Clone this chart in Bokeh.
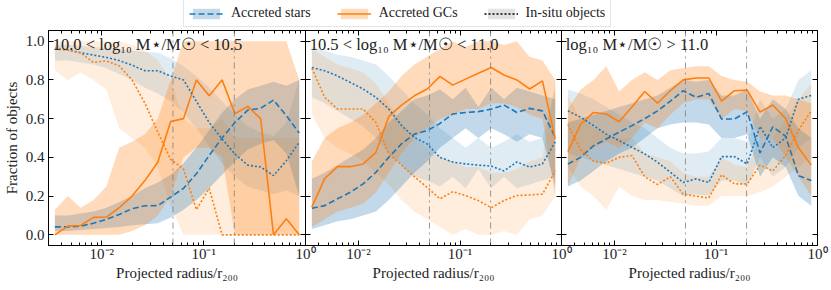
from bokeh.plotting import figure
from bokeh.models import (Range1d, LogAxis, LinearAxis, FixedTicker, CustomJSTickFormatter,
                          PrintfTickFormatter, Span, Label, Legend, LegendItem)
from bokeh.layouts import column, row
from bokeh.embed import file_html
from bokeh.resources import INLINE

# ---------------- data ----------------
RADIUS = [0.003467, 0.004637, 0.006201, 0.008292, 0.01109, 0.01483, 0.01983, 0.02652,
          0.03547, 0.04743, 0.06343, 0.08483, 0.1134, 0.1517, 0.2029, 0.2713, 0.3628,
          0.4852, 0.6489, 0.8677]
XTICKS = [0.01, 0.1, 1.0]
XTICK_LABELS = ["10\u207b\u00b2", "10\u207b\u00b9", "10\u2070"]
YTICKS = [0.0, 0.2, 0.4, 0.6, 0.8, 1.0]
REF_RADII = [0.05, 0.2]
PANEL_TITLES = ["10.0  < log\u2081\u2080 M\u22c6/M\u2609 <  10.5",
                "10.5  < log\u2081\u2080 M\u22c6/M\u2609 <  11.0",
                "log\u2081\u2080 M\u22c6/M\u2609 >  11.0"]
SERIES_NAMES = ["Accreted stars", "Accreted GCs", "In-situ objects"]
XLABEL = "Projected radius/r\u2082\u2080\u2080"
YLABEL = "Fraction of objects"

# panel 1
P1_ACC_STARS = [0.041, 0.041, 0.045, 0.060, 0.080, 0.105, 0.135, 0.150, 0.151, 0.195, 0.240, 0.315, 0.410, 0.500, 0.580, 0.644, 0.653, 0.696, 0.615, 0.526]
P1_ACC_STARS_LO = [0.02, 0.02, 0.025, 0.03, 0.035, 0.04, 0.05, 0.055, 0.06, 0.09, 0.13, 0.18, 0.24, 0.31, 0.38, 0.44, 0.47, 0.49, 0.42, 0.20]
P1_ACC_STARS_HI = [0.10, 0.10, 0.11, 0.12, 0.14, 0.17, 0.20, 0.24, 0.27, 0.31, 0.37, 0.45, 0.54, 0.63, 0.70, 0.75, 0.77, 0.79, 0.77, 0.80]
P1_INS_STARS = [0.96, 0.955, 0.94, 0.928, 0.916, 0.90, 0.876, 0.847, 0.847, 0.82, 0.80, 0.69, 0.58, 0.495, 0.417, 0.36, 0.35, 0.306, 0.383, 0.478]
P1_INS_STARS_LO = [0.90, 0.90, 0.89, 0.88, 0.86, 0.83, 0.80, 0.76, 0.73, 0.69, 0.63, 0.55, 0.46, 0.37, 0.30, 0.25, 0.23, 0.21, 0.23, 0.20]
P1_INS_STARS_HI = [0.98, 0.98, 0.975, 0.97, 0.965, 0.96, 0.95, 0.945, 0.94, 0.91, 0.87, 0.82, 0.76, 0.69, 0.62, 0.56, 0.53, 0.51, 0.58, 0.80]
P1_ACC_GCS = [0.0, 0.045, 0.048, 0.09, 0.092, 0.14, 0.20, 0.28, 0.375, 0.585, 0.60, 0.80, 0.718, 0.80, 0.625, 0.663, 0.60, 0.0, 0.083, 0.0]
P1_ACC_GCS_LO = [0.0, 0.0, 0.0, 0.0, 0.0, 0.0, 0.02, 0.05, 0.10, 0.20, 0.40, 0.45, 0.45, 0.40, 0.0, 0.0, 0.0, 0.0, 0.0, 0.0]
P1_ACC_GCS_HI = [0.13, 0.20, 0.14, 0.18, 0.25, 0.45, 0.48, 0.52, 0.60, 0.80, 1.0, 1.0, 1.0, 1.0, 1.0, 1.0, 1.0, 1.0, 1.0, 0.80]
P1_INS_GCS = [0.965, 0.955, 0.94, 0.89, 0.898, 0.873, 0.80, 0.68, 0.53, 0.39, 0.34, 0.13, 0.24, 0.0, 0.0, 0.0, 0.0, 0.0, 0.0, 0.0]
P1_INS_GCS_LO = [0.85, 0.80, 0.84, 0.80, 0.75, 0.55, 0.50, 0.45, 0.35, 0.15, 0.0, 0.0, 0.0, 0.0, 0.0, 0.0, 0.0, 0.0, 0.0, 0.0]
P1_INS_GCS_HI = [1.0, 1.0, 1.0, 1.0, 1.0, 1.0, 0.98, 0.95, 0.90, 0.80, 0.60, 0.55, 0.55, 0.60, 0.50, 0.50, 0.50, 0.50, 0.50, 0.50]

# panel 2
P2_ACC_STARS = [0.137, 0.151, 0.186, 0.22, 0.263, 0.323, 0.40, 0.47, 0.52, 0.538, 0.575, 0.624, 0.632, 0.636, 0.649, 0.67, 0.632, 0.653, 0.64, 0.503]
P2_ACC_STARS_LO = [0.03, 0.05, 0.07, 0.08, 0.10, 0.12, 0.18, 0.25, 0.32, 0.38, 0.45, 0.50, 0.55, 0.50, 0.55, 0.52, 0.48, 0.52, 0.50, 0.25]
P2_ACC_STARS_HI = [0.29, 0.32, 0.36, 0.40, 0.44, 0.50, 0.58, 0.64, 0.70, 0.72, 0.75, 0.70, 0.76, 0.66, 0.76, 0.70, 0.76, 0.74, 0.72, 0.70]
P2_INS_STARS = [0.864, 0.847, 0.82, 0.787, 0.753, 0.71, 0.65, 0.564, 0.503, 0.469, 0.40, 0.376, 0.366, 0.36, 0.355, 0.33, 0.376, 0.35, 0.366, 0.48]
P2_INS_STARS_LO = [0.71, 0.68, 0.64, 0.60, 0.56, 0.50, 0.42, 0.36, 0.30, 0.28, 0.25, 0.30, 0.24, 0.34, 0.24, 0.30, 0.24, 0.26, 0.28, 0.30]
P2_INS_STARS_HI = [0.97, 0.95, 0.93, 0.92, 0.90, 0.88, 0.82, 0.75, 0.68, 0.62, 0.55, 0.50, 0.45, 0.50, 0.45, 0.48, 0.52, 0.48, 0.50, 0.75]
P2_ACC_GCS = [0.143, 0.29, 0.352, 0.352, 0.366, 0.426, 0.61, 0.67, 0.718, 0.753, 0.818, 0.773, 0.804, 0.834, 0.864, 0.825, 0.80, 0.753, 0.795, 0.495]
P2_ACC_GCS_LO = [0.04, 0.08, 0.12, 0.14, 0.16, 0.22, 0.32, 0.42, 0.50, 0.55, 0.60, 0.62, 0.65, 0.65, 0.68, 0.68, 0.66, 0.62, 0.60, 0.20]
P2_ACC_GCS_HI = [0.38, 0.50, 0.55, 0.58, 0.62, 0.68, 0.74, 0.82, 0.88, 0.92, 0.96, 1.0, 0.97, 1.0, 1.0, 0.98, 1.0, 0.92, 0.90, 0.80]
P2_INS_GCS = [0.86, 0.71, 0.65, 0.65, 0.65, 0.58, 0.42, 0.36, 0.30, 0.245, 0.186, 0.223, 0.203, 0.177, 0.14, 0.177, 0.203, 0.206, 0.21, 0.33]
P2_INS_GCS_LO = [0.62, 0.50, 0.45, 0.42, 0.38, 0.32, 0.26, 0.18, 0.12, 0.08, 0.04, 0.0, 0.03, 0.0, 0.0, 0.02, 0.0, 0.08, 0.10, 0.20]
P2_INS_GCS_HI = [0.96, 0.92, 0.88, 0.86, 0.84, 0.78, 0.68, 0.58, 0.50, 0.45, 0.40, 0.38, 0.35, 0.35, 0.32, 0.32, 0.34, 0.38, 0.40, 0.80]

# panel 3
P3_ACC_STARS = [0.366, 0.40, 0.46, 0.495, 0.53, 0.564, 0.60, 0.64, 0.69, 0.744, 0.71, 0.73, 0.598, 0.598, 0.636, 0.423, 0.558, 0.509, 0.306, 0.28]
P3_ACC_STARS_LO = [0.25, 0.28, 0.33, 0.38, 0.42, 0.45, 0.50, 0.55, 0.57, 0.58, 0.58, 0.57, 0.50, 0.50, 0.52, 0.30, 0.40, 0.35, 0.20, 0.15]
P3_ACC_STARS_HI = [0.58, 0.60, 0.62, 0.64, 0.66, 0.68, 0.70, 0.72, 0.76, 0.80, 0.79, 0.80, 0.72, 0.72, 0.75, 0.60, 0.70, 0.65, 0.55, 0.50]
P3_INS_STARS = [0.64, 0.607, 0.564, 0.52, 0.486, 0.452, 0.418, 0.375, 0.323, 0.27, 0.289, 0.27, 0.404, 0.404, 0.366, 0.56, 0.45, 0.50, 0.70, 0.72]
P3_INS_STARS_LO = [0.42, 0.40, 0.38, 0.36, 0.34, 0.32, 0.30, 0.28, 0.24, 0.20, 0.21, 0.20, 0.28, 0.28, 0.25, 0.40, 0.30, 0.35, 0.45, 0.50]
P3_INS_STARS_HI = [0.75, 0.73, 0.70, 0.66, 0.62, 0.58, 0.55, 0.50, 0.45, 0.42, 0.42, 0.43, 0.50, 0.50, 0.48, 0.70, 0.60, 0.65, 0.80, 0.85]
P3_ACC_GCS = [0.43, 0.572, 0.632, 0.624, 0.584, 0.66, 0.74, 0.68, 0.744, 0.80, 0.81, 0.81, 0.69, 0.744, 0.747, 0.634, 0.67, 0.60, 0.45, 0.36]
P3_ACC_GCS_LO = [0.25, 0.40, 0.45, 0.48, 0.45, 0.50, 0.58, 0.55, 0.62, 0.68, 0.70, 0.70, 0.60, 0.65, 0.64, 0.50, 0.50, 0.40, 0.30, 0.20]
P3_ACC_GCS_HI = [0.65, 0.75, 0.80, 0.87, 0.74, 0.80, 0.84, 0.80, 0.85, 0.86, 0.87, 0.87, 0.82, 0.80, 0.79, 0.74, 0.72, 0.72, 0.70, 0.68]
P3_INS_GCS = [0.57, 0.44, 0.38, 0.37, 0.40, 0.41, 0.30, 0.26, 0.30, 0.21, 0.20, 0.19, 0.31, 0.263, 0.263, 0.36, 0.33, 0.41, 0.54, 0.64]
P3_INS_GCS_LO = [0.35, 0.25, 0.20, 0.13, 0.25, 0.20, 0.18, 0.18, 0.17, 0.16, 0.15, 0.15, 0.20, 0.20, 0.20, 0.22, 0.25, 0.30, 0.35, 0.40]
P3_INS_GCS_HI = [0.72, 0.60, 0.55, 0.52, 0.50, 0.50, 0.42, 0.40, 0.38, 0.32, 0.30, 0.30, 0.40, 0.36, 0.35, 0.50, 0.50, 0.60, 0.70, 0.78]

PANELS = [
    (P1_ACC_STARS, P1_ACC_STARS_LO, P1_ACC_STARS_HI, P1_INS_STARS, P1_INS_STARS_LO, P1_INS_STARS_HI,
     P1_ACC_GCS, P1_ACC_GCS_LO, P1_ACC_GCS_HI, P1_INS_GCS, P1_INS_GCS_LO, P1_INS_GCS_HI),
    (P2_ACC_STARS, P2_ACC_STARS_LO, P2_ACC_STARS_HI, P2_INS_STARS, P2_INS_STARS_LO, P2_INS_STARS_HI,
     P2_ACC_GCS, P2_ACC_GCS_LO, P2_ACC_GCS_HI, P2_INS_GCS, P2_INS_GCS_LO, P2_INS_GCS_HI),
    (P3_ACC_STARS, P3_ACC_STARS_LO, P3_ACC_STARS_HI, P3_INS_STARS, P3_INS_STARS_LO, P3_INS_STARS_HI,
     P3_ACC_GCS, P3_ACC_GCS_LO, P3_ACC_GCS_HI, P3_INS_GCS, P3_INS_GCS_LO, P3_INS_GCS_HI),
]

# ---------------- style ----------------
FONT = "Liberation Serif"
BLUE = "#1f77b4"
ORANGE = "#ff7f0e"
ACC_ALPHA = 0.28
INS_ALPHA = 0.14
XMINOR = [k * 10.0 ** e for e in (-3, -2, -1) for k in range(2, 10)]
FRAME_H = 215
OVERLAP = 12
BLANK = "return ''"


def style_axis(ax, show_labels):
    ax.major_tick_in = 5
    ax.major_tick_out = 0
    ax.minor_tick_in = 3
    ax.minor_tick_out = 0
    ax.axis_line_color = "black"
    ax.major_tick_line_color = "black"
    ax.minor_tick_line_color = "black"
    ax.major_label_text_font = FONT
    ax.major_label_text_font_size = "15px"
    ax.major_label_text_color = "#222222"
    ax.axis_label_text_font = FONT
    ax.axis_label_text_font_size = "15px"
    ax.axis_label_text_font_style = "normal"
    ax.axis_label_text_color = "#222222"
    if not show_labels:
        ax.formatter = CustomJSTickFormatter(code=BLANK)
        ax.major_label_standoff = 0
        ax.major_label_text_font_size = "1px"


def x_ticker():
    return FixedTicker(ticks=XTICKS, minor_ticks=XMINOR)


def y_ticker():
    return FixedTicker(ticks=YTICKS, minor_ticks=[])


def make_panel(i):
    first = i == 0
    p = figure(x_axis_type="log", x_range=Range1d(0.003, 1.0), y_range=Range1d(-0.055, 1.055),
               frame_width=257 if first else 256, frame_height=FRAME_H,
               min_border_left=47 if first else 0, min_border_right=OVERLAP,
               min_border_top=0, min_border_bottom=36,
               output_backend="svg", toolbar_location=None)
    p.grid.visible = False
    p.outline_line_color = "black"
    p.outline_line_width = 1
    p.background_fill_color = "white"
    if not first:
        p.margin = (0, 0, 0, -OVERLAP)
        p.border_fill_color = None

    xa = p.xaxis[0]
    xa.ticker = x_ticker()
    xa.major_label_overrides = dict(zip(XTICKS, XTICK_LABELS))
    xa.axis_label = XLABEL
    style_axis(xa, True)
    xa.major_label_standoff = 0
    xa.axis_label_standoff = 0

    ya = p.yaxis[0]
    ya.ticker = y_ticker()
    if first:
        style_axis(ya, True)
        ya.formatter = PrintfTickFormatter(format="%.1f")
        ya.axis_label = YLABEL
        ya.major_label_standoff = 4
        ya.axis_label_standoff = 3
    else:
        style_axis(ya, False)

    top = LogAxis(ticker=x_ticker())
    style_axis(top, False)
    p.add_layout(top, "above")
    right = LinearAxis(ticker=y_ticker())
    style_axis(right, False)
    p.add_layout(right, "right")

    (acc_s, acc_s_lo, acc_s_hi, ins_s, ins_s_lo, ins_s_hi,
     acc_g, acc_g_lo, acc_g_hi, ins_g, ins_g_lo, ins_g_hi) = PANELS[i]

    p.varea(x=RADIUS, y1=ins_s_lo, y2=ins_s_hi, fill_color=BLUE, fill_alpha=INS_ALPHA)
    p.varea(x=RADIUS, y1=ins_g_lo, y2=ins_g_hi, fill_color=ORANGE, fill_alpha=INS_ALPHA)
    p.varea(x=RADIUS, y1=acc_s_lo, y2=acc_s_hi, fill_color=BLUE, fill_alpha=ACC_ALPHA)
    p.varea(x=RADIUS, y1=acc_g_lo, y2=acc_g_hi, fill_color=ORANGE, fill_alpha=ACC_ALPHA)

    for loc in REF_RADII:
        p.add_layout(Span(location=loc, dimension="height", line_color="gray",
                          line_dash="dashdot", line_width=1, line_alpha=0.8))

    p.line(RADIUS, acc_s, line_color=BLUE, line_width=1.6, line_dash="6 3")
    p.line(RADIUS, acc_g, line_color=ORANGE, line_width=1.6)
    p.line(RADIUS, ins_s, line_color=BLUE, line_width=1.6, line_dash="2 2")
    p.line(RADIUS, ins_g, line_color=ORANGE, line_width=1.6, line_dash="2 2")

    p.add_layout(Label(x=0.0033, y=1.032, text=PANEL_TITLES[i], text_font=FONT,
                       text_font_size="16.5px", text_baseline="top", text_color="#222222"))
    return p


panels = [make_panel(i) for i in range(3)]

# ---------------- legend strip ----------------
lf = figure(width=828, height=30, x_range=Range1d(0, 1), y_range=Range1d(0, 1),
            x_axis_location=None, y_axis_location=None, toolbar_location=None,
            output_backend="svg", min_border=0)
lf.grid.visible = False
lf.outline_line_color = None
OUT = [5, 6]
ra = lf.varea(x=OUT, y1=OUT, y2=OUT, fill_color=BLUE, fill_alpha=0.28)
rb = lf.line(OUT, OUT, line_color=BLUE, line_width=1.6, line_dash="6 3")
rc = lf.varea(x=OUT, y1=OUT, y2=OUT, fill_color=ORANGE, fill_alpha=0.28)
rd = lf.line(OUT, OUT, line_color=ORANGE, line_width=1.6)
re_ = lf.varea(x=OUT, y1=OUT, y2=OUT, fill_color="gray", fill_alpha=0.22)
rf = lf.line(OUT, OUT, line_color="black", line_width=1.6, line_dash="2 2")
legend = Legend(items=[LegendItem(label=SERIES_NAMES[0], renderers=[ra, rb]),
                       LegendItem(label=SERIES_NAMES[1], renderers=[rc, rd]),
                       LegendItem(label=SERIES_NAMES[2], renderers=[re_, rf])],
                orientation="horizontal", location=(183, 3),
                label_text_font=FONT, label_text_font_size="14px", label_text_color="#222222",
                glyph_width=34, glyph_height=13, label_standoff=8, spacing=26,
                padding=5, margin=0, label_height=13,
                border_line_color="#cccccc", border_line_width=1, background_fill_alpha=1)
lf.add_layout(legend, "center")

layout = column(lf, row(*panels))
open("out.html", "w").write(file_html(layout, INLINE))
